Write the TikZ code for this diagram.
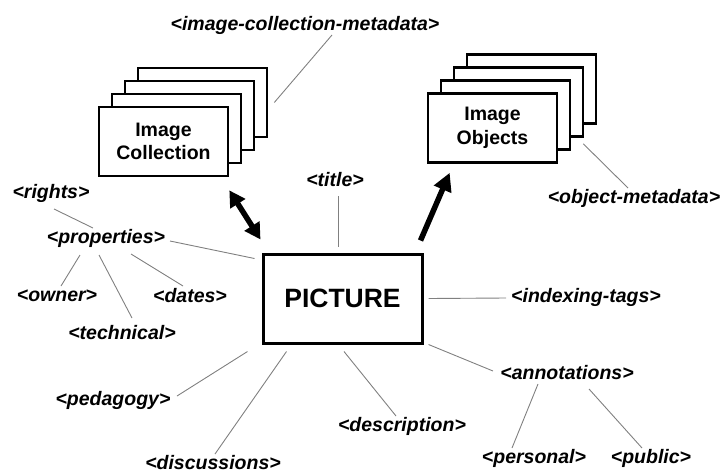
\documentclass[tikz,border=0pt]{standalone}
\usepackage{fontspec}
\setmainfont{Liberation Sans}
\usetikzlibrary{calc,arrows.meta}
\begin{document}
\begin{tikzpicture}[x=1pt,y=-1pt,
  tag/.style={font=\fontsize{19.5}{23}\selectfont\bfseries\itshape, inner sep=0pt},
  leaf/.style={draw=black!50, line width=0.9pt},
  card/.style={draw=black, line width=2.6pt, fill=white, minimum width=129pt,
               minimum height=69pt, inner sep=0pt},
  cardtext/.style={font=\fontsize{19.5}{23.5}\selectfont\bfseries, align=center},
  bigarrow/.style={line width=5.5pt, -{Triangle[length=18pt,width=18pt]}},
  twoway/.style={line width=5.5pt, {Triangle[length=16pt,width=17pt]}-{Triangle[length=16pt,width=17pt]}}
]
\useasboundingbox (0,0) rectangle (722,474);

% stacked cards: image collection
\node[card] (coll3) at (202.5,102.5) {};
\node[card] (coll2) at (189.5,115.5) {};
\node[card] (coll1) at (176.5,128.5) {};
\node[card, cardtext] (coll) at (163.5,141.5) {Image\\Collection};

% stacked cards: image objects
\node[card] (obj3) at (531.5,89) {};
\node[card] (obj2) at (518.5,102) {};
\node[card] (obj1) at (505.5,115) {};
\node[card, cardtext] (obj) at (492.5,128) {Image\\Objects};

% central box
\node[draw=black, line width=3pt, minimum width=159pt, minimum height=89pt,
      font=\fontsize{26.5}{30}\selectfont\bfseries] (pic) at (342.5,298.5) {PICTURE};

% metadata tags
\node[tag] (icm)    at (305,25)  {<image-collection-metadata>};
\node[tag] (objm)   at (634,198) {<object-metadata>};
\node[tag] (title)  at (335,180) {<title>};
\node[tag] (idx)    at (586,297) {<indexing-tags>};
\node[tag] (rights) at (51,193)  {<rights>};
\node[tag] (props)  at (106,238) {<properties>};
\node[tag] (owner)  at (57,296)  {<owner>};
\node[tag] (dates)  at (190,296) {<dates>};
\node[tag] (tech)   at (122,333) {<technical>};
\node[tag] (peda)   at (113,400) {<pedagogy>};
\node[tag] (disc)   at (213,463) {<discussions>};
\node[tag] (desc)   at (402,426) {<description>};
\node[tag] (annot)  at (567,373) {<annotations>};
\node[tag] (pers)   at (534,458) {<personal>};
\node[tag] (pub)    at (651,458) {<public>};

% thick arrows
\draw[twoway] ($(coll.south east)+(0,13)$) -- ($(pic.north west)+(-1,-13)$);
\draw[bigarrow] ($(pic.north east)+(-3,-12)$) -- ($(obj.south west)+(23,9)$);

% thin connectors
\draw[leaf] ($(icm)+(27,10)$) -- ($(coll3.east)+(6,0)$);
\draw[leaf] ($(obj2.south east)+(-1,6)$) -- ($(objm)+(-6,-10)$);
\draw[leaf] ($(title)+(3,16)$) -- ($(pic.north)+(-4.5,-6)$);
\draw[leaf] ($(pic.east)+(5,0)$) -- ($(idx)+(-80,1)$);
\draw[leaf] ($(rights)+(3,16)$) -- ($(props)+(-13,-10)$);
\draw[leaf] ($(props)+(64,3)$) -- ($(pic.north west)+(-7,6)$);
\draw[leaf] ($(props)+(-26,17)$) -- ($(owner)+(4,-10)$);
\draw[leaf] ($(props)+(25,16)$) -- ($(dates)+(-7,-10)$);
\draw[leaf] ($(props)+(-7,17)$) -- ($(tech)+(10,-15)$);
\draw[leaf] ($(peda)+(64,-4)$) -- ($(pic.south west)+(-14,7)$);
\draw[leaf] ($(disc)+(2,-9)$) -- ($(pic.south west)+(25,7)$);
\draw[leaf] ($(desc)+(-6,-10)$) -- ($(pic.south)+(1.5,7)$);
\draw[leaf] ($(annot)+(-74,-2)$) -- ($(pic.south east)+(5,0)$);
\draw[leaf] ($(annot)+(-29,11)$) -- ($(pers)+(-22,-10)$);
\draw[leaf] ($(annot)+(22,16)$) -- ($(pub)+(-9,-10)$);
\end{tikzpicture}
\end{document}
